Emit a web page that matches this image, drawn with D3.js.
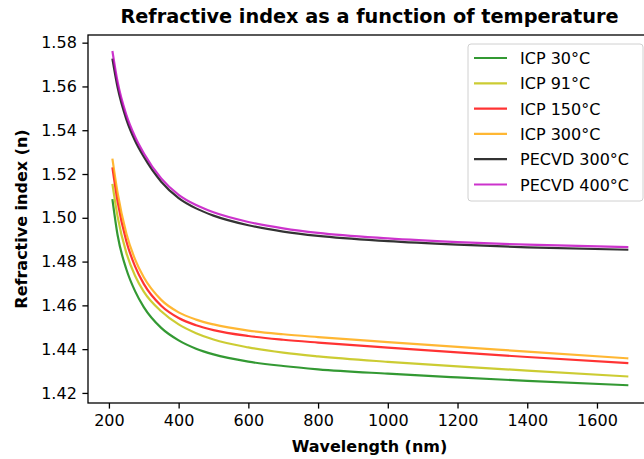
<!DOCTYPE html>
<html>
<head>
<meta charset="utf-8">
<script src="https://cdn.jsdelivr.net/npm/d3@7"></script>
<style>
  body { margin: 0; background: #fff; }
  text { font-family: "DejaVu Sans", sans-serif; fill: #000; }
</style>
</head>
<body>
<svg id="chart" width="644" height="459"></svg>
<script>
"use strict"

var wavelengths = [210, 225, 250, 275, 300, 350, 400, 450, 500, 600, 700, 800, 1000, 1200, 1400, 1690];

var icp30    = [1.5085, 1.4920, 1.4765, 1.4665, 1.4592, 1.4497, 1.4440, 1.4402, 1.4376, 1.4343, 1.4323, 1.4308, 1.4288, 1.4271, 1.4255, 1.4235];
var icp91    = [1.5155, 1.5005, 1.4840, 1.4735, 1.4663, 1.4573, 1.4513, 1.4473, 1.4444, 1.4408, 1.4384, 1.4367, 1.4342, 1.4321, 1.4302, 1.4275];
var icp150   = [1.5230, 1.5073, 1.4893, 1.4778, 1.4698, 1.4598, 1.4542, 1.4509, 1.4487, 1.4460, 1.4443, 1.4430, 1.4407, 1.4385, 1.4364, 1.4336];
var icp300   = [1.5270, 1.5113, 1.4928, 1.4810, 1.4728, 1.4625, 1.4568, 1.4535, 1.4513, 1.4485, 1.4468, 1.4455, 1.4432, 1.4410, 1.4389, 1.4358];
var pecvd300 = [1.5727, 1.5595, 1.5450, 1.5352, 1.5279, 1.5165, 1.5090, 1.5043, 1.5010, 1.4966, 1.4937, 1.4917, 1.4893, 1.4877, 1.4865, 1.4854];
var pecvd400 = [1.5762, 1.5620, 1.5470, 1.5370, 1.5295, 1.5180, 1.5105, 1.5058, 1.5025, 1.4981, 1.4952, 1.4931, 1.4906, 1.4889, 1.4877, 1.4866];

var seriesNames  = ["ICP 30°C", "ICP 91°C", "ICP 150°C", "ICP 300°C", "PECVD 300°C", "PECVD 400°C"];
var seriesValues = [icp30, icp91, icp150, icp300, pecvd300, pecvd400];
var seriesColors = ["#008000", "#bfbf00", "#ff0000", "#ffa500", "#000000", "#bf00bf"];

var xTicks = [200, 400, 600, 800, 1000, 1200, 1400, 1600];
var yTicks = [1.42, 1.44, 1.46, 1.48, 1.50, 1.52, 1.54, 1.56, 1.58];

var plot = {left: 88, right: 651, top: 35, bottom: 403};

var svg = d3.select("#chart");

var x = d3.scaleLinear().domain([140, 1755]).range([plot.left, plot.right]);
var y = d3.scaleLinear().domain([1.4154, 1.5835]).range([plot.bottom, plot.top]);

// axes
var xAxis = d3.axisBottom(x)
    .tickValues(xTicks)
    .tickSize(5.6)
    .tickPadding(5.6)
    .tickFormat(d3.format("d"));

var yAxis = d3.axisLeft(y)
    .tickValues(yTicks)
    .tickSize(5.6)
    .tickPadding(5.6)
    .tickFormat(d3.format(".2f"));

var gx = svg.append("g")
    .attr("transform", "translate(0," + plot.bottom + ")")
    .call(xAxis);

var gy = svg.append("g")
    .attr("transform", "translate(" + plot.left + ",0)")
    .call(yAxis);

[gx, gy].forEach(function(g){
    g.select(".domain").remove();
    g.selectAll(".tick line").attr("stroke", "#000").attr("stroke-width", 1.3);
    g.selectAll(".tick text")
        .style("font-family", "DejaVu Sans")
        .style("font-size", "16px")
        .attr("fill", "#262626");
});

// curves
var line = d3.line()
    .x(function(d){ return x(d[0]); })
    .y(function(d){ return y(d[1]); })
    .curve(d3.curveMonotoneX);

seriesValues.forEach(function(vals, i){
    var pts = wavelengths.map(function(w, j){ return [w, vals[j]]; });
    svg.append("path")
        .attr("class", "line")
        .attr("d", line(pts))
        .attr("fill", "none")
        .attr("stroke", seriesColors[i])
        .attr("stroke-opacity", 0.8)
        .attr("stroke-width", 2.2);
});

// frame
svg.append("rect")
    .attr("x", plot.left)
    .attr("y", plot.top)
    .attr("width", plot.right - plot.left)
    .attr("height", plot.bottom - plot.top)
    .attr("fill", "none")
    .attr("stroke", "#000")
    .attr("stroke-width", 1.3);

// title and labels
svg.append("text")
    .attr("x", (plot.left + plot.right) / 2)
    .attr("y", 23)
    .attr("text-anchor", "middle")
    .style("font-size", "19.3px")
    .style("font-weight", "bold")
    .text("Refractive index as a function of temperature");

svg.append("text")
    .attr("x", (plot.left + plot.right) / 2)
    .attr("y", 452)
    .attr("text-anchor", "middle")
    .style("font-size", "16px")
    .style("font-weight", "bold")
    .text("Wavelength (nm)");

svg.append("text")
    .attr("transform", "translate(27," + (plot.top + plot.bottom) / 2 + ") rotate(-90)")
    .attr("text-anchor", "middle")
    .style("font-size", "16px")
    .style("font-weight", "bold")
    .text("Refractive index (n)");

// legend
var legend = svg.append("g").attr("class", "legend");

legend.append("rect")
    .attr("x", 468)
    .attr("y", 44)
    .attr("width", 175)
    .attr("height", 157)
    .attr("rx", 3)
    .attr("fill", "#fff")
    .attr("fill-opacity", 0.8)
    .attr("stroke", "#d0d0d0");

var rowH = 25.3;

legend.selectAll("line")
    .data(seriesNames)
    .enter()
    .append("line")
    .attr("x1", 474)
    .attr("x2", 507)
    .attr("y1", function(d, i){ return 58 + i * rowH; })
    .attr("y2", function(d, i){ return 58 + i * rowH; })
    .attr("stroke", function(d, i){ return seriesColors[i]; })
    .attr("stroke-opacity", 0.8)
    .attr("stroke-width", 2.2);

legend.selectAll("text")
    .data(seriesNames)
    .enter()
    .append("text")
    .attr("x", 520)
    .attr("y", function(d, i){ return 64 + i * rowH; })
    .style("font-size", "16px")
    .attr("fill", "#262626")
    .text(function(d){ return d; });
</script>
</body>
</html>
